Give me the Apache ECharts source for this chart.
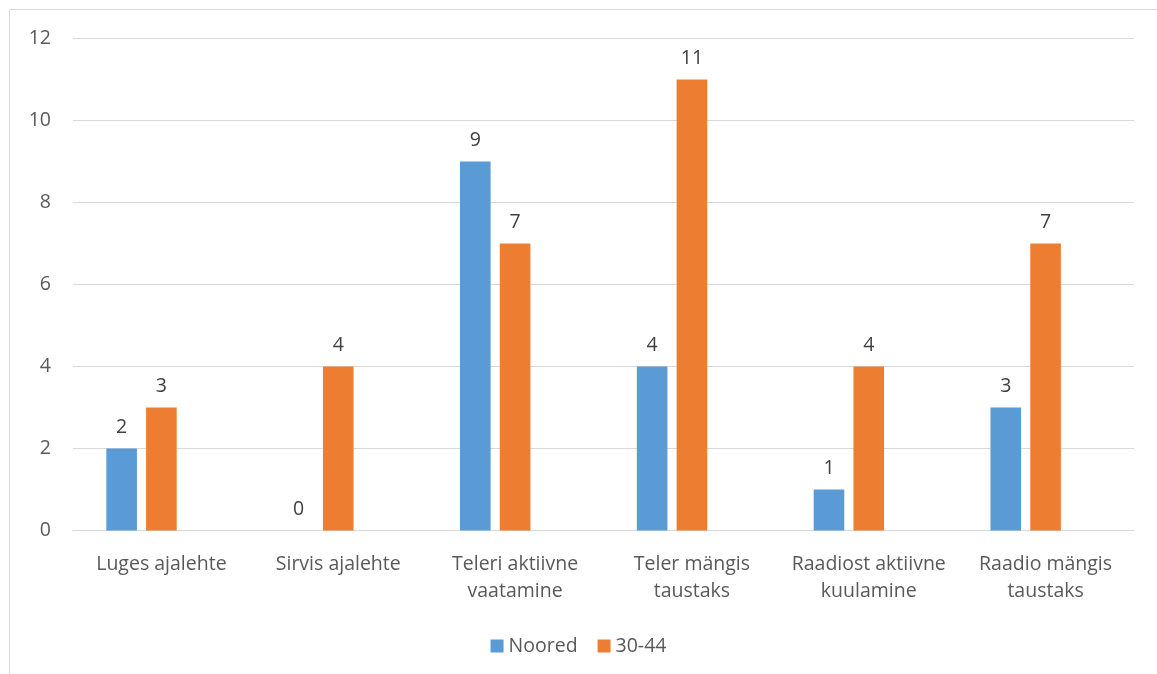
<!DOCTYPE html>
<html><head><meta charset="utf-8">
<script src="https://cdn.jsdelivr.net/npm/echarts@6/dist/echarts.min.js"></script>
<style>html,body{margin:0;padding:0;background:#fff}#c{width:1157px;height:674px}</style>
</head><body><div id="c"></div>
<script>
const categories = ["Luges ajalehte", "Sirvis ajalehte", "Teleri aktiivne\nvaatamine", "Teler mängis\ntaustaks", "Raadiost aktiivne\nkuulamine", "Raadio mängis\ntaustaks"];
const noored = [2, 0, 9, 4, 1, 3];
const vanus3044 = [3, 4, 7, 11, 4, 7];
const emptySeries = [null, null, null, null, null, null];
const seriesNames = ["Noored", "30-44"];

const font = "'Open Sans', 'Liberation Sans', sans-serif";
const fs = 19.5;
const chart = echarts.init(document.getElementById('c'), null, {renderer: 'canvas'});
const labelCfg = {show: true, position: 'top', distance: 11, color: '#404040', fontSize: fs, fontFamily: font,
  formatter: p => p.value};
chart.setOption({
  animation: false,
  graphic: [{type: 'rect', shape: {x: 9.5, y: 9.5, width: 1300, height: 800},
    style: {fill: 'none', stroke: '#d9d9d9', lineWidth: 1}, silent: true}],
  grid: {left: 73, right: 23, top: 38.5, bottom: 143.5, containLabel: false},
  legend: {bottom: 13, left: 'center', itemWidth: 13, itemHeight: 13, itemGap: 20,
    icon: 'rect', data: seriesNames,
    textStyle: {color: '#595959', fontSize: fs, fontFamily: font}},
  xAxis: {type: 'category', data: categories,
    axisLine: {lineStyle: {color: '#d9d9d9', width: 1}}, axisTick: {show: false},
    axisLabel: {color: '#595959', fontSize: fs, fontFamily: font, margin: 20, lineHeight: 27, interval: 0}},
  yAxis: {type: 'value', min: 0, max: 12, interval: 2,
    axisLine: {show: false}, axisTick: {show: false},
    splitLine: {lineStyle: {color: '#d9d9d9', width: 1}},
    axisLabel: {color: '#595959', fontSize: fs, fontFamily: font, margin: 22}},
  series: [
    {name: seriesNames[0], type: 'bar', data: noored, barWidth: 30.6, barGap: '30%',
      itemStyle: {color: '#5b9bd5'}, label: labelCfg},
    {name: seriesNames[1], type: 'bar', data: vanus3044, barWidth: 30.6, barGap: '30%',
      itemStyle: {color: '#ed7d31'}, label: labelCfg},
    {name: 'tühi', type: 'bar', data: emptySeries, barWidth: 30.6, barGap: '30%',
      itemStyle: {color: 'transparent'}}
  ]
});
</script></body></html>
